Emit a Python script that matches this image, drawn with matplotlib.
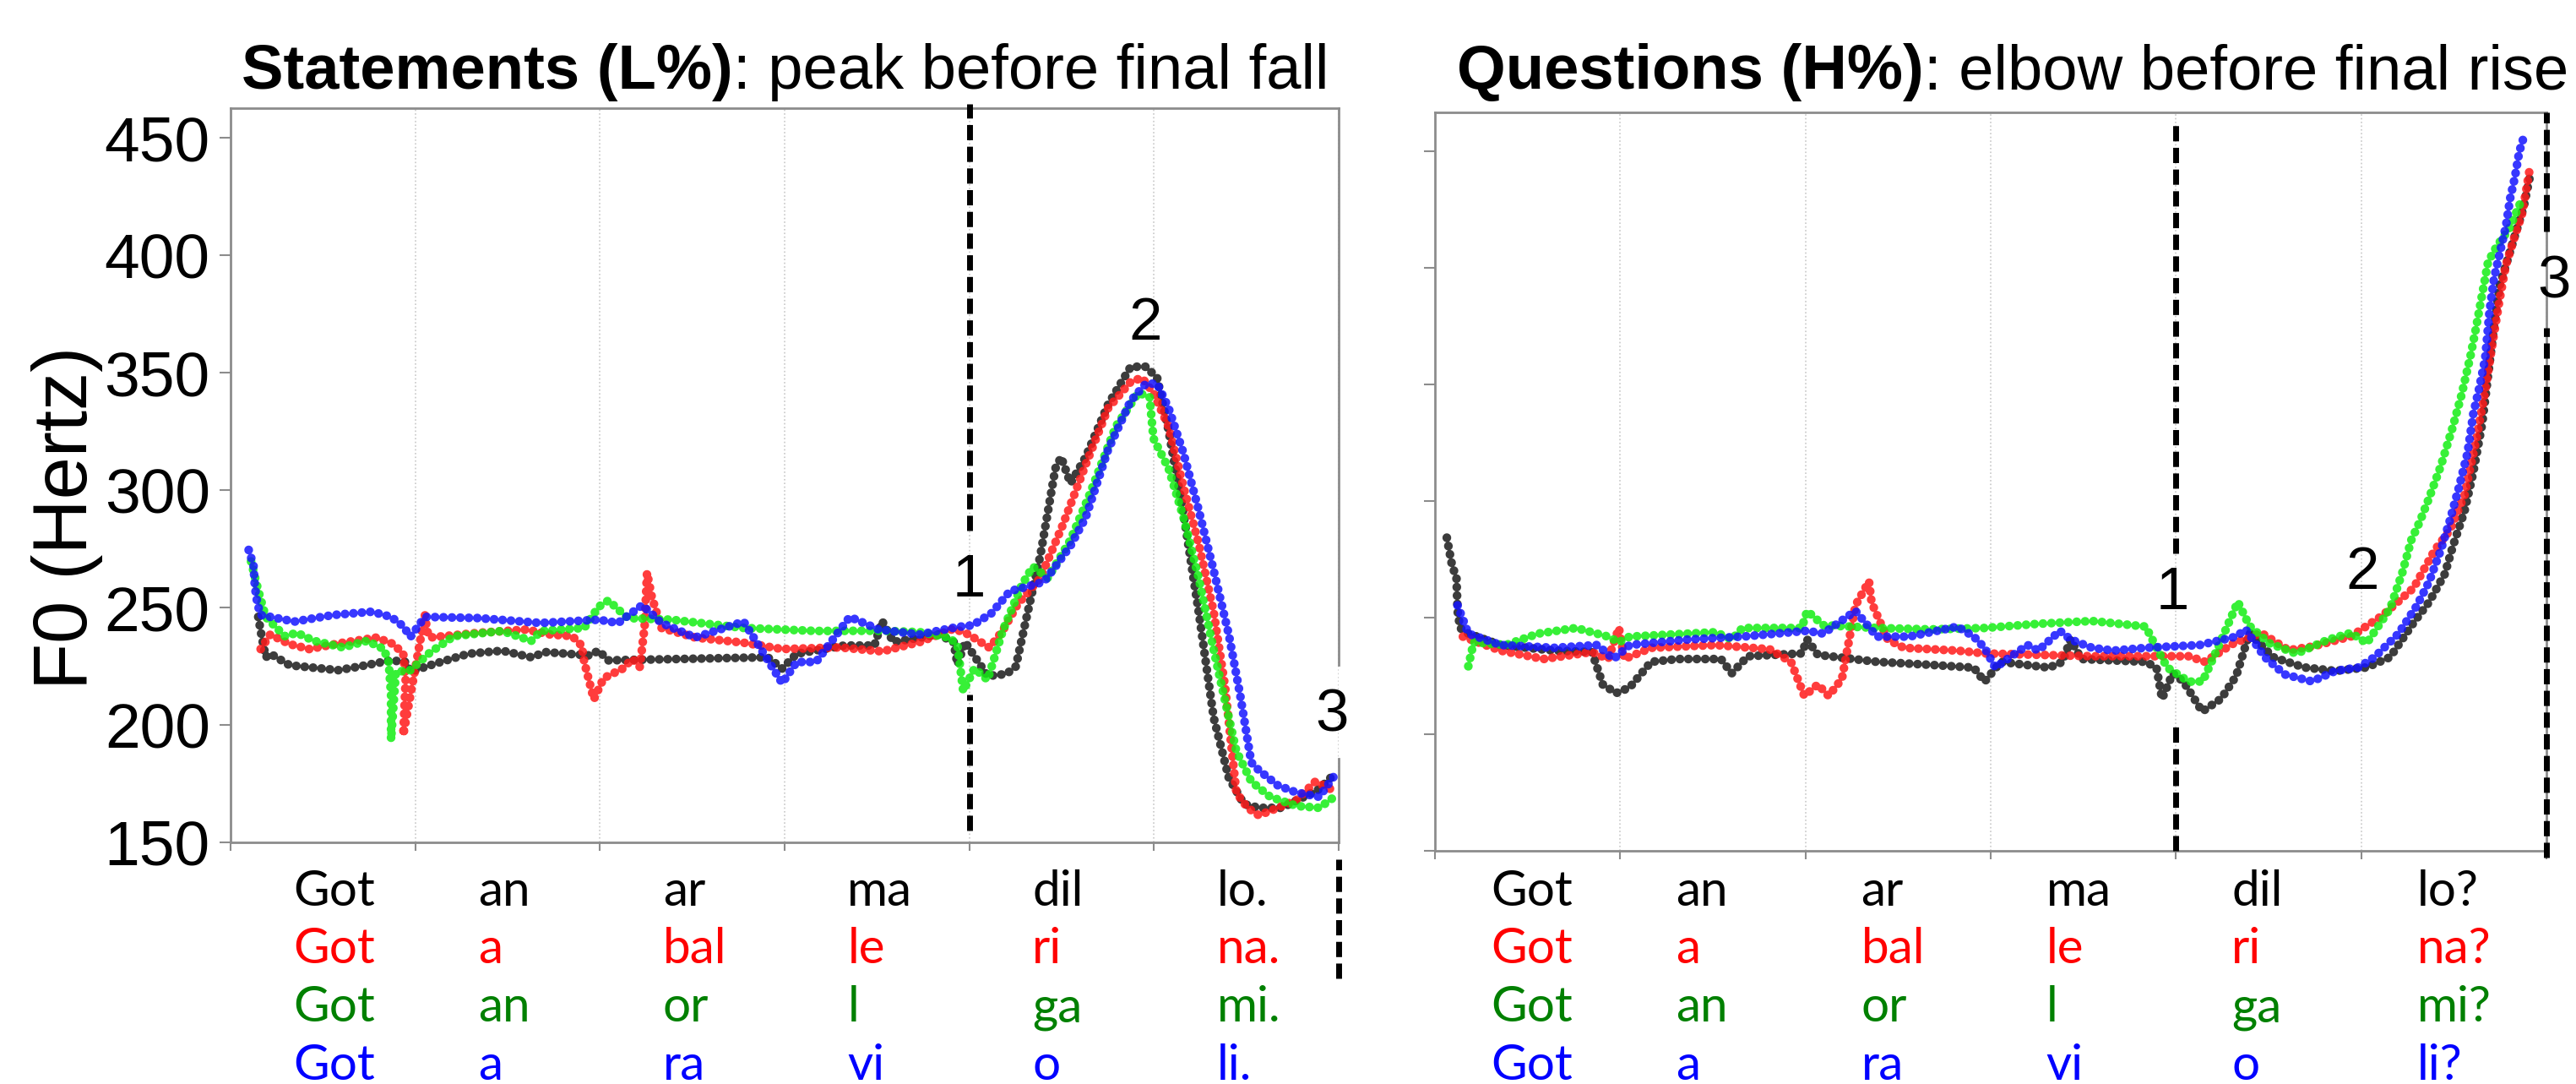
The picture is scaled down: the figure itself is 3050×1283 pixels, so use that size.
import matplotlib
matplotlib.use("Agg")
import matplotlib.pyplot as plt
import matplotlib.transforms as mtransforms

plt.rcParams['font.family'] = ['Liberation Sans', 'DejaVu Sans']

# syllable rows under each panel (black, red, green, blue sentence)
stmt_rows = [["Got", "an", "ar", "ma", "dil", "lo."],
             ["Got", "a", "bal", "le", "ri", "na."],
             ["Got", "an", "or", "l", "ga", "mi."],
             ["Got", "a", "ra", "vi", "o", "li."]]
ques_rows = [["Got", "an", "ar", "ma", "dil", "lo?"],
             ["Got", "a", "bal", "le", "ri", "na?"],
             ["Got", "an", "or", "l", "ga", "mi?"],
             ["Got", "a", "ra", "vi", "o", "li?"]]
row_colors = ["#000000", "#ff0000", "#008000", "#0000ff"]
track_colors = ["#1a1a1a", "#ff1a1a", "#14ee14", "#1414ff"]

yticks = [150, 200, 250, 300, 350, 400, 450]

# ---- Statements: F0 tracks (x in syllables, Hz) ----
stmt_black_x = [0.15, 0.163, 0.19, 0.216, 0.32, 0.582, 0.686, 0.869, 0.948, 0.974, 1.104, 1.288, 1.471,
                1.628, 1.706, 1.941, 1.993, 2.046, 2.516, 2.908, 2.987, 3.065, 3.323, 3.486, 3.528, 3.589,
                3.834, 3.915, 3.936, 3.977, 4.058, 4.099, 4.201, 4.252, 4.303, 4.385, 4.466, 4.497, 4.548,
                4.63, 4.752, 4.874, 4.956, 5.017, 5.079, 5.16, 5.242, 5.323, 5.405, 5.487, 5.568, 5.691,
                5.813, 5.895, 5.977]
stmt_black_hz = [246, 240, 228.8, 230.3, 225.4, 223.3, 224.7, 227.5, 226.8, 222.6, 226, 230.3, 231.6,
                 228.8, 231, 229.6, 231.6, 227.5, 228.2, 228.8, 224, 230.3, 233.8, 233.8, 244.2, 235.3,
                 238.5, 235.3, 225.7, 235.3, 225.7, 220.8, 221.7, 224.9, 243.3, 272.3, 309.2, 314, 302.9,
                 314, 336.5, 352.5, 352.5, 347.8, 325.3, 289.9, 248.2, 203.2, 177.5, 166.3, 164.7, 164.7,
                 169.4, 172.7, 179.1]

stmt_red_x = [0.163, 0.215, 0.32, 0.425, 0.608, 0.791, 0.882, 0.935, 0.948, 0.935, 1.052, 1.065, 1.078,
              1.34, 1.601, 1.732, 1.85, 1.902, 1.915, 1.967, 2.02, 2.124, 2.176, 2.216, 2.242, 2.255,
              2.281, 2.333, 2.516, 2.778, 2.987, 3.3, 3.528, 3.732, 3.916, 3.997, 4.109, 4.181, 4.262,
              4.385, 4.507, 4.63, 4.752, 4.874, 4.935, 4.997, 5.079, 5.16, 5.242, 5.323, 5.385, 5.446,
              5.507, 5.568, 5.67, 5.772, 5.874, 5.956]
stmt_red_hz = [232.3, 238.5, 234.4, 232.3, 235, 237.2, 234.4, 230.3, 219.2, 195.7, 246.8, 240, 237.2,
               239.2, 240.6, 238.5, 237.8, 233.7, 226.8, 210.9, 219.9, 224, 228.2, 224.7, 242, 264.8,
               254.4, 241.3, 237.2, 235, 232.3, 233, 231.3, 235.3, 241, 238.5, 232.9, 240.1, 251.4,
               262.6, 285.3, 310.8, 334.9, 346.1, 347.8, 341.4, 327, 301.2, 277.1, 248.2, 216.2, 171.1,
               164.7, 161.5, 164.7, 168, 175.9, 172.7]

stmt_green_x = [0.111, 0.15, 0.19, 0.294, 0.36, 0.451, 0.608, 0.739, 0.83, 0.856, 0.869, 0.869, 0.895,
                0.974, 1.078, 1.209, 1.471, 1.628, 1.68, 1.915, 1.993, 2.046, 2.15, 2.386, 2.778, 3.17,
                3.528, 3.732, 3.895, 3.936, 3.967, 4.028, 4.099, 4.181, 4.283, 4.344, 4.425, 4.548, 4.65,
                4.793, 4.915, 4.976, 4.997, 5.079, 5.16, 5.242, 5.323, 5.405, 5.446, 5.527, 5.629, 5.772,
                5.895, 5.977]
stmt_green_hz = [269.6, 257.2, 246, 237.8, 239.2, 235.8, 233, 235.8, 232.3, 226.8, 213, 193.7, 222.6,
                 223.3, 230.7, 237.8, 240, 235.8, 240, 241.3, 250.3, 253, 245.5, 244.8, 241.3, 240,
                 240.1, 239.5, 237.1, 233.8, 214.4, 224.1, 219.2, 240.1, 259.4, 267.4, 262.6, 278.8, 297.8,
                 327, 341.4, 339.7, 322, 309.2, 288.3, 262.6, 232, 203.2, 188.8, 175.9, 169.4, 165.5,
                 164.7, 169.4]

stmt_blue_x = [0.098, 0.124, 0.132, 0.145, 0.163, 0.346, 0.556, 0.765, 0.869, 0.935, 0.974, 1.052, 1.34,
               1.68, 1.993, 2.098, 2.229, 2.333, 2.516, 2.778, 2.987, 3.065, 3.17, 3.353, 3.51, 3.732,
               3.936, 4.017, 4.119, 4.221, 4.303, 4.405, 4.466, 4.548, 4.63, 4.752, 4.874, 4.956, 5.017,
               5.079, 5.16, 5.242, 5.323, 5.405, 5.466, 5.527, 5.568, 5.67, 5.772, 5.895, 5.977]
stmt_blue_hz = [274.5, 268, 258.6, 251.7, 246.8, 244, 246.8, 248.2, 246, 242, 237.5, 246, 245.5,
                243.4, 244.8, 243.4, 251, 243.4, 237.2, 244, 217.8, 226.8, 226.8, 246, 240.6, 238.5,
                241.7, 242.4, 247.5, 257, 258.6, 261, 267.4, 276.3, 288.3, 317.3, 338, 345.3, 345.3,
                334.9, 315.6, 291.5, 265.8, 238.5, 213, 184, 180.7, 174.3, 171.2, 169.4, 178.4]

# ---- Questions: F0 tracks ----
ques_black_x = [0.064, 0.093, 0.116, 0.122, 0.136, 0.18, 0.354, 0.644, 0.848, 0.906, 0.978, 1.051, 1.167,
                1.312, 1.544, 1.602, 1.689, 1.98, 2.009, 2.067, 2.386, 2.676, 2.909, 2.967, 3.054, 3.315,
                3.388, 3.431, 3.489, 3.837, 3.895, 3.925, 3.983, 4.041, 4.142, 4.244, 4.325, 4.397, 4.524,
                4.692, 4.861, 5.03, 5.156, 5.283, 5.367, 5.451, 5.494, 5.558, 5.605, 5.653, 5.685, 5.717,
                5.749, 5.797, 5.845, 5.877, 5.909]
ques_black_hz = [284.2, 272, 267.3, 252.8, 245.5, 243.1, 238.2, 235.8, 235.2, 221.3, 217.6, 220, 231,
                 232.2, 232.2, 226.1, 233.4, 234.6, 240.6, 234, 231, 229.7, 228.5, 222.5, 231, 228.5,
                 231, 240.6, 232.2, 231, 228.5, 215.2, 226.1, 222.5, 209.7, 215.2, 224.9, 243.4, 233,
                 228.6, 227.1, 228.6, 233, 247.8, 256.7, 268.6, 280.3, 295.7, 312.2, 333, 353.8, 374.6,
                 392.7, 405.1, 417.6, 425.9, 438.4]

ques_red_x = [0.151, 0.354, 0.586, 0.848, 0.935, 0.993, 1.022, 1.167, 1.515, 1.806, 1.922, 1.994, 2.067,
              2.125, 2.197, 2.27, 2.343, 2.357, 2.444, 2.531, 2.821, 2.967, 3.257, 3.547, 3.837, 4.07,
              4.157, 4.273, 4.313, 4.46, 4.608, 4.734, 4.945, 5.114, 5.283, 5.398, 5.478, 5.558, 5.621,
              5.669, 5.709, 5.749, 5.781, 5.829, 5.869, 5.893, 5.909]
ques_red_hz = [241.8, 235.8, 232.2, 235.2, 232.2, 245.5, 232.2, 237, 238.2, 236.4, 231, 216.4, 221.3,
               216.4, 223.7, 255.2, 265.5, 256.4, 240.6, 237, 235.8, 234.6, 234, 233.4, 233.4, 233.4,
               231, 237, 239, 243.4, 236, 237.5, 241.9, 250.8, 262.7, 279, 287.3, 302.5, 326.1,
               346.9, 367.7, 387.1, 401, 413.4, 423.2, 434.2, 441.9]

ques_green_x = [0.18, 0.209, 0.383, 0.557, 0.761, 0.935, 0.993, 1.051, 1.515, 1.602, 1.66, 1.98, 2.009,
                2.096, 2.386, 2.676, 2.967, 3.257, 3.547, 3.837, 3.895, 3.954, 4.07, 4.144, 4.229, 4.334,
                4.397, 4.503, 4.65, 4.819, 4.945, 5.03, 5.156, 5.222, 5.27, 5.318, 5.366, 5.43, 5.494,
                5.542, 5.59, 5.621, 5.653, 5.685, 5.733, 5.797, 5.861]
ques_green_hz = [229.1, 239.4, 238.2, 243.1, 245.5, 241.8, 239.4, 241.8, 243.7, 240.6, 245.5, 245.5, 252.8,
                 246.7, 245.5, 244.9, 245.5, 247.3, 248.5, 246.1, 237, 228.5, 222.5, 222.6, 237.5, 256.7,
                 246.4, 239, 234.5, 240.4, 243.4, 239, 253.8, 269.2, 283.1, 291.4, 301.1, 315, 331.6,
                 345.5, 362.1, 374.6, 388.5, 402.4, 409.3, 416.3, 428]

ques_blue_x = [0.122, 0.18, 0.354, 0.644, 0.877, 0.964, 1.051, 1.37, 1.66, 2.009, 2.096, 2.27, 2.386,
               2.56, 2.821, 2.909, 2.967, 3.025, 3.112, 3.199, 3.257, 3.373, 3.431, 3.547, 3.663, 3.837,
               4.128, 4.325, 4.376, 4.48, 4.587, 4.734, 4.861, 4.987, 5.072, 5.2, 5.3, 5.366, 5.43,
               5.478, 5.526, 5.574, 5.605, 5.637, 5.669, 5.693, 5.717, 5.749, 5.781, 5.805, 5.829, 5.853,
               5.877]
ques_blue_hz = [255.2, 243.1, 238.2, 237, 238.2, 232.2, 238.2, 240.6, 241.8, 244.3, 243.1, 252.8, 241.8,
                241.8, 246.1, 241.8, 237, 228.5, 233.4, 238.2, 235.8, 244.3, 240.6, 237, 235.8, 237,
                238.2, 241.8, 244.9, 233, 225.6, 222.6, 227.1, 228.6, 233, 243, 255, 265.2, 279,
                291.4, 305.3, 320.5, 337.3, 348.3, 360.8, 381.5, 395.4, 406.5, 417.6, 430, 438.4, 449.5,
                455.8]

# landmark labels (x, Hz) and boundary dashes (x, Hz from, Hz to)
stmt_marks = [("1", 4.0, 261), ("2", 4.955, 370.5), ("3", 5.965, 203.6)]
ques_marks = [("1", 3.98, 260), ("2", 5.008, 268.8), ("3", 6.04, 393.5)]
stmt_dashes = [(4, 464.4, 282.7), (4, 213, 155), (6, 142.8, 92)]
ques_dashes = [(4, 461.6, 277.5), (4, 205, 150), (6, 466.5, 415.6), (6, 374, 147)]

spine_col = "#8c8c8c"
W, H = 3050, 1283
fig = plt.figure(figsize=(W / 100, H / 100), dpi=100)

ax1 = fig.add_axes([273 / W, 1 - 997 / H, (1585 - 273) / W, (997 - 128) / H])
ax2 = fig.add_axes([1699 / W, 1 - 1007 / H, (3015 - 1699) / W, (1007 - 133) / H])


def style_axes(ax, ylim, show_labels):
    ax.set_xlim(0, 6)
    ax.set_ylim(*ylim)
    ax.set_xticks(range(7))
    ax.set_xticklabels([])
    ax.set_yticks(yticks)
    if not show_labels:
        ax.set_yticklabels([])
    ax.tick_params(axis='y', direction='out', length=9.5, width=1.5, color=spine_col,
                   labelsize=54, pad=8)
    ax.tick_params(axis='x', direction='out', length=7.5, width=1.5, color=spine_col)
    for s in ax.spines.values():
        s.set_color(spine_col)
        s.set_linewidth(2)
    ax.xaxis.grid(True, linestyle=':', color='#c8c8c8', linewidth=1.2)
    ax.set_axisbelow(True)


def plot_track(ax, xs, hz, color):
    ax.plot(xs, hz, color=color, lw=7.5, alpha=0.85, linestyle=(0, (0.01, 0.95)),
            dash_capstyle='round', zorder=3)


def draw_syllables(ax, rows, offset):
    trans = mtransforms.blended_transform_factory(ax.transData, fig.transFigure)
    baselines = [1 - 1072 / H, 1 - 1140 / H, 1 - 1209 / H, 1 - 1278 / H]
    for row, col, yb in zip(rows, row_colors, baselines):
        for i, syl in enumerate(row):
            ax.text(i + offset, yb, syl, transform=trans, ha='left', va='baseline',
                    fontsize=42, color=col, family=['Lato', 'DejaVu Sans'])


style_axes(ax1, (150, 462.6), True)
style_axes(ax2, (150, 466.5), False)

for xs, hz, c in zip([stmt_black_x, stmt_red_x, stmt_green_x, stmt_blue_x],
                     [stmt_black_hz, stmt_red_hz, stmt_green_hz, stmt_blue_hz], track_colors):
    plot_track(ax1, xs, hz, c)
for xs, hz, c in zip([ques_black_x, ques_red_x, ques_green_x, ques_blue_x],
                     [ques_black_hz, ques_red_hz, ques_green_hz, ques_blue_hz], track_colors):
    plot_track(ax2, xs, hz, c)

for ax, dashes in [(ax1, stmt_dashes), (ax2, ques_dashes)]:
    for x, y0, y1 in dashes:
        ax.vlines(x, y1, y0, colors='black', linewidth=5, linestyles=(0, (2.6, 1.1)),
                  clip_on=False, zorder=4)

# left panel: right spine broken around the "3"
ax1.spines['right'].set_visible(False)
ax1.axvline(6, ymin=0, ymax=0.114, color=spine_col, lw=2, clip_on=False)
ax1.axvline(6, ymin=0.242, ymax=1, color=spine_col, lw=2, clip_on=False)

for ax, marks in [(ax1, stmt_marks), (ax2, ques_marks)]:
    for lab, x, y in marks:
        ax.text(x, y, lab, ha='center', va='center', fontsize=51, zorder=5)

draw_syllables(ax1, stmt_rows, 0.34)
draw_syllables(ax2, ques_rows, 0.30)

fig.text(0.026, 1 - 613 / H, 'F0 (Hertz)', rotation=90, ha='center', va='center', fontsize=65)

renderer = fig.canvas.get_renderer()
for x0, bold, rest in [(286 / W, 'Statements (L%)', ': peak before final fall'),
                       (1725 / W, 'Questions (H%)', ': elbow before final rise')]:
    t1 = fig.text(x0, 1 - 105 / H, bold, fontsize=53.5, fontweight='bold', va='baseline')
    bb = t1.get_window_extent(renderer)
    fig.text(x0 + bb.width / W, 1 - 105 / H, rest, fontsize=53.5, va='baseline')

fig.savefig('out.png', dpi=100)
